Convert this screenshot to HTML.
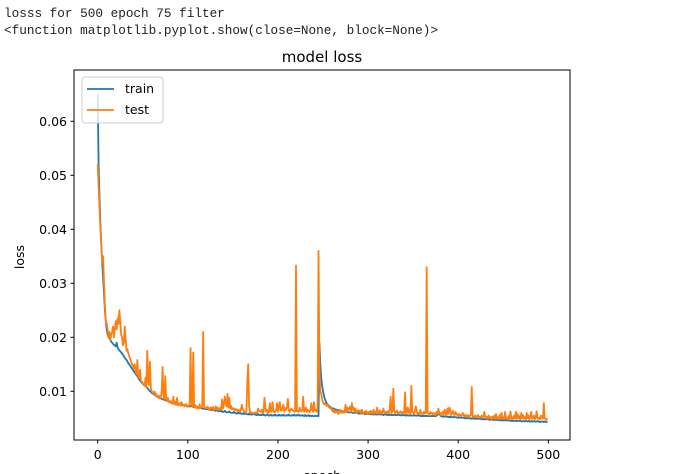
<!DOCTYPE html>
<html><head><meta charset="utf-8"><style>
body{margin:0;background:#fff;width:680px;height:474px;overflow:hidden;position:relative}
.hdr{position:absolute;left:4px;font-family:"Liberation Mono",monospace;font-size:12.7px;color:#222;white-space:pre}
svg text{font-family:"DejaVu Sans","Liberation Sans",sans-serif;fill:#000}
</style></head><body>
<div class="hdr" style="top:6px">losss for 500 epoch 75 filter</div>
<div class="hdr" style="top:23px">&lt;function matplotlib.pyplot.show(close=None, block=None)&gt;</div>
<svg id="chart" width="680" height="474" style="position:absolute;left:0;top:0">
<text x="322" y="62" font-size="15" text-anchor="middle">model loss</text>
<g id="plot"></g>
<rect x="74" y="70" width="496" height="370" fill="none" stroke="#000" stroke-width="1"/>
<g id="ticks"></g>
<text transform="translate(24,257) rotate(-90)" font-size="12.5" text-anchor="middle">loss</text>
<text x="322" y="480" font-size="12.5" text-anchor="middle">epoch</text>
<g>
<rect x="82" y="77" width="81" height="46" rx="3" fill="#fff" fill-opacity="0.8" stroke="#ccc"/>
<line x1="87" y1="89" x2="114" y2="89" stroke="#1f77b4" stroke-width="1.8"/>
<text x="125" y="93" font-size="12.5">train</text>
<line x1="87" y1="110" x2="114" y2="110" stroke="#ff7f0e" stroke-width="1.8"/>
<text x="125" y="114" font-size="12.5">test</text>
</g>
</svg>
<script>
// loss values in units of 1e-4
const trainLoss=[650,520,460,410,370,340,310,280,250,230,215,205,200,198,195,192,190,188,186,185,
183,190,182,178,176,174,172,170,168,165,162,160,158,155,152,150,147,145,142,140,
137,135,132,130,128,125,122,120,118,116,114,112,111,110,108,106,104,102,100,99,
97,96,95,94,92,91,90,89,88,88,87,86,85,85,84,84,83,82,82,81,
81,80,80,79,79,78,78,80,77,77,76,76,78,75,75,75,74,74,76,73,
73,73,72,72,74,72,71,71,73,70,70,70,69,71,69,69,68,68,68,67,
67,67,69,66,66,66,65,67,65,65,64,64,66,64,63,63,63,65,62,62,
62,64,62,61,61,61,63,61,60,60,60,62,60,60,59,59,61,59,59,59,
58,58,60,58,58,58,58,57,59,57,57,57,57,59,57,57,56,56,58,56,
56,56,56,58,56,56,55,56,57,56,55,55,57,55,55,56,55,57,55,55,
55,57,55,55,56,55,57,55,55,55,56,55,57,55,55,55,56,55,57,55,
55,56,55,57,55,55,55,56,55,54,56,55,54,55,56,54,55,54,55,54,
54,55,54,54,55,54,190,150,125,110,100,92,86,82,78,76,74,72,71,70,
69,68,68,67,66,66,65,65,64,64,64,63,63,63,62,62,62,62,61,61,
61,61,61,60,60,60,60,60,60,59,59,59,59,59,59,59,58,58,58,58,
58,58,58,57,58,57,57,58,57,57,57,57,58,57,57,57,57,56,57,57,
57,56,57,56,56,57,56,56,56,57,56,56,56,56,57,56,56,55,56,56,
56,55,56,55,56,55,55,56,55,55,55,56,55,55,55,55,56,55,54,55,
54,55,54,55,54,55,54,54,55,54,54,54,55,54,54,54,55,56,60,58,
55,54,53,54,53,53,54,53,53,52,53,52,53,52,52,53,52,52,52,51,
52,51,51,52,51,51,51,50,51,50,50,51,50,50,50,49,50,50,49,50,
49,49,50,49,49,49,48,49,48,49,48,48,49,48,48,47,48,48,47,48,
47,47,48,47,47,47,46,47,46,47,46,46,47,46,46,46,47,46,45,46,
45,46,45,45,46,45,45,45,46,45,45,44,45,45,44,45,45,44,45,44,
44,45,44,44,45,44,44,44,45,44,44,43,44,44,44,43,44,44,43,44];
const testLoss=[520,480,440,400,370,340,350,300,260,230,225,215,200,210,195,205,210,220,200,215,
230,215,235,225,250,230,205,200,185,190,220,195,175,178,170,165,160,155,150,148,
142,150,138,132,158,128,125,140,120,118,115,112,110,125,108,175,120,112,155,105,
100,98,96,100,92,95,90,88,92,87,89,100,145,90,86,128,84,82,88,80,
79,82,78,77,90,76,80,75,88,74,76,78,73,80,74,75,72,73,76,72,
71,74,72,180,80,72,172,70,75,69,72,71,68,76,69,70,73,210,70,69,
70,68,72,67,66,70,69,67,71,65,68,72,66,70,67,65,70,66,85,68,
75,90,80,72,95,70,88,68,73,66,67,69,65,67,64,66,63,65,62,68,
75,66,64,62,60,62,118,150,72,62,60,61,60,59,60,61,59,60,68,64,
63,62,66,60,61,88,70,62,65,60,61,78,63,62,80,64,61,62,66,78,
62,72,80,65,64,70,75,62,69,66,70,86,64,62,66,68,65,64,62,63,
333,63,64,62,70,64,63,66,90,62,64,70,62,66,63,61,65,78,65,62,
80,64,66,62,68,360,140,100,95,85,80,76,78,75,73,76,72,70,68,70,
65,62,66,60,62,64,60,58,62,66,60,61,64,60,62,75,62,70,65,68,
72,62,78,66,70,62,68,60,63,65,62,64,60,66,61,59,62,60,64,58,
60,62,58,64,60,58,66,60,62,59,70,61,60,65,59,62,60,68,61,60,
62,60,63,59,66,90,60,62,105,65,60,62,64,58,61,60,63,60,59,62,
60,98,58,62,70,60,66,58,110,62,60,58,64,72,62,58,60,59,66,58,
60,58,62,59,60,330,60,58,56,62,59,60,57,60,58,56,62,58,68,60,
56,60,58,62,57,66,60,56,68,58,70,66,56,60,64,58,56,62,57,56,
58,55,57,54,56,60,55,53,57,54,52,56,53,55,56,108,52,54,53,55,
52,54,56,51,53,52,55,51,54,62,52,50,53,49,55,50,52,48,53,50,
55,49,58,50,52,48,56,49,60,50,52,48,62,49,51,48,54,50,63,49,
52,48,55,50,62,49,58,50,54,48,60,50,56,49,52,48,60,50,55,48,
52,62,49,50,55,48,52,63,50,49,51,48,55,52,49,78,50,48,49,47];
const xTicks=[0,100,200,300,400,500];
const yTicks=[0.01,0.02,0.03,0.04,0.05,0.06];
const yTickLabels=["0.01","0.02","0.03","0.04","0.05","0.06"];

const NS="http://www.w3.org/2000/svg";
function xs(e){return 97.7+e*0.9013;}
function ys(v){return 445.3-v*5400;}
const plot=document.getElementById('plot');
function series(arr,color,name){
  const p=document.createElementNS(NS,'polyline');
  p.setAttribute('points',arr.map((u,i)=>xs(i).toFixed(2)+','+ys(u/10000).toFixed(2)).join(' '));
  p.setAttribute('fill','none');p.setAttribute('stroke',color);p.setAttribute('stroke-width','1.8');
  p.setAttribute('stroke-linejoin','round');
  
  
  plot.appendChild(p);
}
series(trainLoss,'#1f77b4','train-line');
series(testLoss,'#ff7f0e','test-line');
const tg=document.getElementById('ticks');
xTicks.forEach(t=>{
  const l=document.createElementNS(NS,'line');
  l.setAttribute('x1',xs(t));l.setAttribute('x2',xs(t));l.setAttribute('y1',440);l.setAttribute('y2',443.5);l.setAttribute('stroke','#000');
  
  
  tg.appendChild(l);
  const tx=document.createElementNS(NS,'text');
  tx.setAttribute('x',xs(t));tx.setAttribute('y',459);tx.setAttribute('font-size','12.5');tx.setAttribute('text-anchor','middle');
  tx.textContent=t;
  
  
  tg.appendChild(tx);
});
yTicks.forEach((t,i)=>{
  const l=document.createElementNS(NS,'line');
  l.setAttribute('x1',70.5);l.setAttribute('x2',74);l.setAttribute('y1',ys(t));l.setAttribute('y2',ys(t));l.setAttribute('stroke','#000');
  
  
  tg.appendChild(l);
  const tx=document.createElementNS(NS,'text');
  tx.setAttribute('x',67);tx.setAttribute('y',ys(t)+4.5);tx.setAttribute('font-size','12.5');tx.setAttribute('text-anchor','end');
  tx.textContent=yTickLabels[i];
  
  
  tg.appendChild(tx);
});
</script>
</body></html>
